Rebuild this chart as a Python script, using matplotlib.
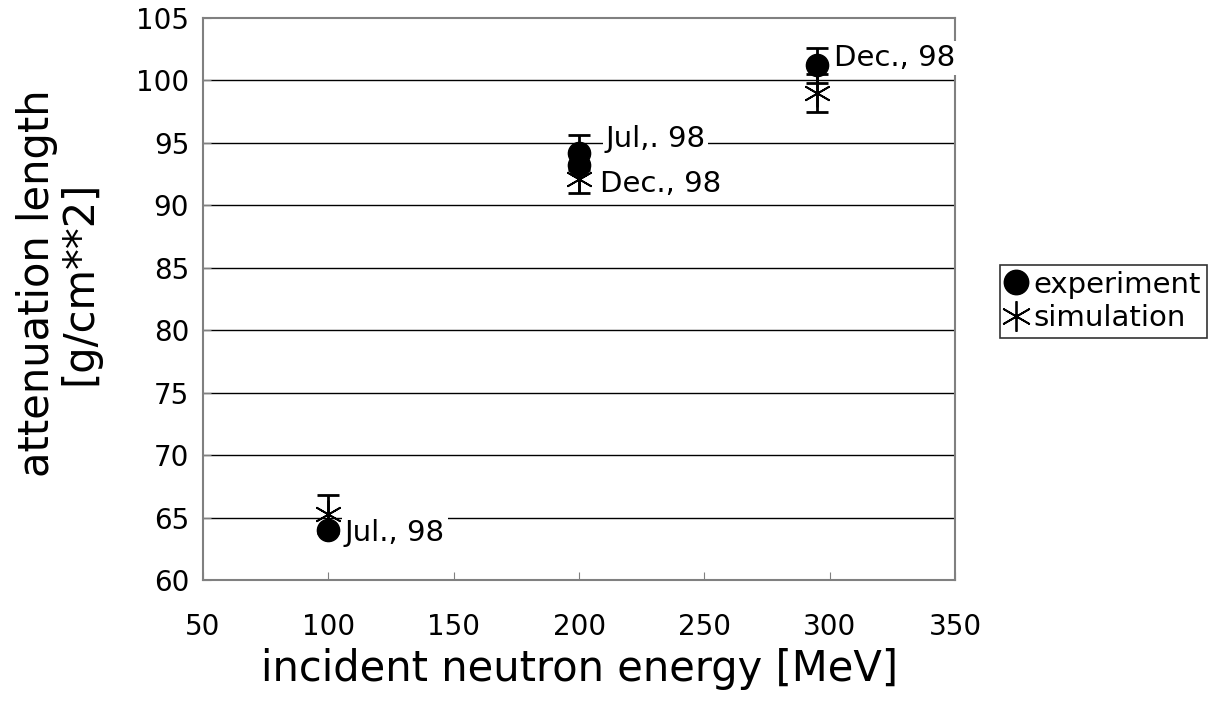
import matplotlib.pyplot as plt

# data
exp_x = [100, 200, 200, 295]
exp_y = [64.0, 94.2, 93.2, 101.2]
exp_err = [0.0, 1.4, 0.0, 1.4]
sim_x = [100, 200, 295]
sim_y = [65.3, 92.1, 99.0]
sim_err = [1.5, 1.1, 1.5]
labels = ['Jul., 98', 'Jul,. 98', 'Dec., 98', 'Dec., 98']
label_x = [106.5, 210.5, 208.5, 301.5]
label_y = [63.8, 95.3, 91.7, 101.8]

plt.rcParams['font.family'] = ['DejaVu Sans']

fig = plt.figure(figsize=(12.18, 7.06), dpi=100)
ax = fig.add_axes([0.1667, 0.1785, 0.6175, 0.796])

for y in range(65, 105, 5):
    ax.axhline(y, color='black', lw=1.0, zorder=1)

ax.errorbar(sim_x, sim_y, yerr=sim_err, fmt='none', ecolor='black',
            elinewidth=2, capsize=8, capthick=2, zorder=3)
ax.errorbar(exp_x, exp_y, yerr=exp_err, fmt='none', ecolor='black',
            elinewidth=2, capsize=8, capthick=2, zorder=3)
sim = ax.plot(sim_x, sim_y, ls='none', marker=(6, 2, 0), ms=20, mec='black',
              mew=1.3, color='black', zorder=4, label='simulation')[0]
exp = ax.plot(exp_x, exp_y, ls='none', marker='o', ms=16, color='black',
              zorder=5, label='experiment')[0]

for t, x, y in zip(labels, label_x, label_y):
    ax.text(x, y, t, fontsize=21, ha='left', va='center', zorder=6,
            bbox=dict(facecolor='white', edgecolor='none', pad=2))

ax.set_xlim(50, 350)
ax.set_ylim(60, 105)
ax.set_xticks(range(50, 351, 50))
ax.set_yticks(range(60, 106, 5))
ax.tick_params(direction='in', length=6, labelsize=20, color='#808080')
ax.tick_params(axis='x', pad=24)
ax.tick_params(axis='y', pad=10)
for s in ax.spines.values():
    s.set_color('#808080')
    s.set_linewidth(1.5)

ax.set_xlabel('incident neutron energy [MeV]', fontsize=30, labelpad=5)
ax.set_ylabel('attenuation length\n[g/cm**2]', fontsize=30,
              linespacing=1.0, labelpad=26)
ax.yaxis.label.set_y(0.528)

leg = fig.legend([exp, sim], ['experiment', 'simulation'], loc='upper left',
                 bbox_to_anchor=(0.821, 0.625), prop={'size': 21},
                 frameon=True, fancybox=False, edgecolor='black',
                 handlelength=0.7, handletextpad=0.25, borderpad=0.2,
                 labelspacing=0.2, borderaxespad=0, markerscale=1.1)
leg.get_frame().set_linewidth(1.2)

fig.savefig('out.png', dpi=100)
